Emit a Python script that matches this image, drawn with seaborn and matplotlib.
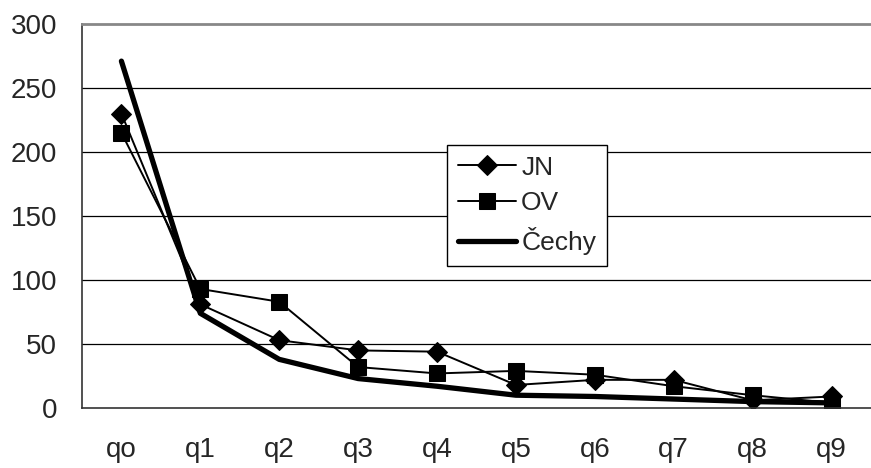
import numpy as np
import pandas as pd
import matplotlib.pyplot as plt
import seaborn as sns
from matplotlib.ticker import FixedLocator

categories = ["qo", "q1", "q2", "q3", "q4", "q5", "q6", "q7", "q8", "q9"]
jn = [230, 81, 53, 45, 44, 18, 22, 22, 6, 9]
ov = [215, 93, 83, 32, 27, 29, 26, 17, 10, 4]
cechy = [271, 74, 38, 23, 17, 10, 9, 7, 5, 4]

sns.set_style("white")
plt.rcParams['font.family'] = ['Liberation Sans', 'DejaVu Sans']

df = pd.DataFrame({"q": categories, "JN": jn, "OV": ov, "Čechy": cechy})

fig = plt.figure(figsize=(8.71, 4.68), dpi=100)
ax = fig.add_axes([0.0941, 0.1282, 0.9059, 0.8205])

sns.lineplot(data=df, x="q", y="JN", ax=ax, color="black", lw=1.4,
             marker="D", markersize=10, markeredgecolor="black", label="JN", sort=False)
sns.lineplot(data=df, x="q", y="OV", ax=ax, color="black", lw=1.4,
             marker="s", markersize=11, markeredgecolor="black", label="OV", sort=False)
sns.lineplot(data=df, x="q", y="Čechy", ax=ax, color="black", lw=3.8,
             label="Čechy", sort=False)

ax.set_xlim(-0.5, 9.5)
ax.set_ylim(0, 300)
ax.set_yticks(np.arange(0, 301, 50))
ax.set_xlabel("")
ax.set_ylabel("")

for y in range(50, 300, 50):
    ax.axhline(y, color="black", lw=0.9, zorder=0)

ax.xaxis.set_minor_locator(FixedLocator(np.arange(-0.5, 10, 1)))
ax.tick_params(axis="x", which="major", length=0, pad=21, labelsize=20)
ax.tick_params(axis="x", which="minor", length=9, width=1, color="black", direction="out")
ax.tick_params(axis="y", length=9, width=1, color="black", direction="out", pad=9, labelsize=20)

for side in ["left", "bottom"]:
    ax.spines[side].set_color("#333333")
    ax.spines[side].set_linewidth(1.2)
ax.spines["top"].set_color("#888888")
ax.spines["top"].set_linewidth(2)
ax.spines["right"].set_visible(False)

leg = ax.legend(loc="upper left", bbox_to_anchor=(0.463, 0.685), fontsize=19,
                frameon=True, fancybox=False, edgecolor="black", framealpha=1,
                handlelength=2.2, handletextpad=0.2, borderpad=0.4, labelspacing=0.45,
                borderaxespad=0)
leg.get_frame().set_linewidth(1)

fig.savefig("out.png", dpi=100)
